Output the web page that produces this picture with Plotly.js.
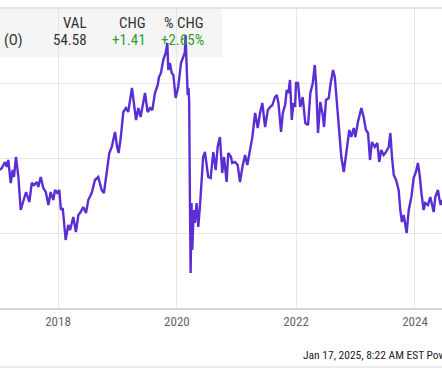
<!DOCTYPE html>
<html>
<head>
<meta charset="utf-8">
<script src="https://cdn.plot.ly/plotly-3.0.1.min.js"></script>
<style>html,body{margin:0;padding:0;background:#fff;}#chart{width:442px;height:369px;}</style>
</head>
<body>
<div id="chart"></div>
<script>
const dates = [
'2017-01-10','2017-01-21','2017-02-10','2017-02-20','2017-03-02','2017-03-17','2017-03-29','2017-04-06','2017-04-18','2017-05-03',
'2017-05-17','2017-06-02','2017-06-19','2017-07-09','2017-07-24','2017-08-07','2017-08-24','2017-09-02','2017-09-17','2017-10-03',
'2017-10-18','2017-11-03','2017-11-17','2017-12-03','2017-12-14','2017-12-28',
'2018-01-09','2018-01-19','2018-01-30','2018-02-17','2018-03-05','2018-03-16','2018-04-05','2018-04-21','2018-05-06','2018-05-20',
'2018-06-05','2018-06-22','2018-07-06','2018-07-27','2018-08-16','2018-09-05','2018-09-26','2018-10-10','2018-10-27','2018-11-12',
'2018-11-27','2018-12-17','2018-12-31',
'2019-01-08','2019-01-21','2019-02-06','2019-02-22','2019-03-08','2019-03-31','2019-04-25','2019-05-09','2019-05-23','2019-06-19',
'2019-07-05','2019-07-20','2019-08-03','2019-08-19','2019-09-05','2019-09-13','2019-09-25','2019-10-09','2019-10-24','2019-11-03',
'2019-11-09','2019-11-19','2019-11-30','2019-12-10','2019-12-24',
'2020-01-09','2020-01-26','2020-02-09','2020-02-19','2020-02-23','2020-03-01','2020-03-07','2020-03-12','2020-03-16','2020-03-21',
'2020-03-25','2020-03-31','2020-04-04','2020-04-13','2020-04-20','2020-05-01','2020-05-11','2020-05-21','2020-06-01','2020-06-10',
'2020-06-21','2020-07-01','2020-07-11','2020-07-26','2020-08-11','2020-08-26','2020-09-07','2020-09-21','2020-10-05','2020-10-16',
'2020-11-01','2020-11-11','2020-11-28','2020-12-05','2020-12-22',
'2021-01-08','2021-01-22','2021-02-06','2021-02-22','2021-03-08','2021-03-25','2021-04-08','2021-04-25','2021-05-11','2021-05-25',
'2021-06-08','2021-06-25','2021-07-12','2021-07-26','2021-08-09','2021-08-25','2021-09-05','2021-09-15','2021-10-01','2021-10-12',
'2021-10-26','2021-11-05','2021-11-15','2021-11-25','2021-12-06','2021-12-16','2021-12-26',
'2022-01-01','2022-01-13','2022-01-27','2022-02-11','2022-02-27','2022-03-16','2022-03-30','2022-04-14','2022-04-26','2022-05-04',
'2022-05-16','2022-05-30','2022-06-14','2022-06-22','2022-07-04','2022-07-21','2022-07-31','2022-08-16','2022-08-27','2022-09-10',
'2022-09-24','2022-10-06','2022-10-21','2022-11-04','2022-11-16','2022-11-24','2022-12-06','2022-12-21','2022-12-31',
'2023-01-16','2023-02-06','2023-02-20','2023-03-06','2023-03-19','2023-03-31','2023-04-12','2023-04-29','2023-05-15','2023-05-27',
'2023-06-08','2023-06-23','2023-07-07','2023-07-24','2023-08-03','2023-08-13','2023-08-24','2023-09-07','2023-09-23','2023-10-03',
'2023-10-13','2023-10-24','2023-11-03','2023-11-11','2023-11-24','2023-12-10','2023-12-24',
'2024-01-07','2024-01-19','2024-01-30','2024-02-09','2024-02-23','2024-03-04','2024-03-21','2024-04-04','2024-04-14','2024-04-25',
'2024-05-05','2024-05-21','2024-06-01','2024-06-07','2024-06-15'
];
const values = [
57.6,58.0,59.2,58.2,59.6,55.0,57.6,56.2,60.2,56.2,
49.6,51.6,53.2,51.2,55.0,54.6,55.2,54.2,56.2,54.0,
53.2,50.6,53.2,51.6,53.6,53.0,
53.6,49.6,50.0,43.6,46.6,45.6,48.2,45.2,48.6,49.2,
50.2,49.0,51.6,53.0,55.6,56.2,53.6,53.0,57.6,61.0,
62.2,65.2,62.0,
61.0,64.0,69.2,70.0,69.2,74.0,67.6,70.0,68.2,73.0,
69.2,70.0,69.6,73.0,74.6,76.2,77.0,79.6,81.0,83.0,
77.6,79.0,77.0,76.6,72.0,
74.2,79.0,80.2,81.2,84.6,77.6,72.6,74.0,71.6,51.0,
37.0,51.0,41.6,49.6,47.0,51.0,46.2,50.2,56.2,60.2,
61.2,58.2,56.2,56.0,61.2,57.6,62.2,64.2,57.0,60.2,
55.2,61.0,60.2,59.0,59.2,
58.6,55.2,58.2,60.6,58.6,62.2,64.2,69.0,66.0,69.0,
71.0,66.2,69.6,70.2,70.6,72.2,72.6,71.0,65.2,69.0,
70.6,73.6,73.0,75.6,67.6,71.0,70.2,
75.0,75.0,70.2,72.2,67.0,66.6,73.0,75.0,78.6,75.0,
65.0,71.2,68.6,66.2,71.6,72.0,74.6,77.6,76.2,70.6,
65.6,60.2,57.2,61.0,64.2,65.6,64.2,66.0,64.2,
67.2,70.0,68.2,65.6,65.0,59.6,63.2,62.2,63.0,59.2,
61.6,60.6,61.2,62.2,65.0,60.2,56.6,55.6,53.6,49.6,
47.2,48.6,47.0,45.0,49.6,52.2,56.0,
57.2,59.0,56.6,53.2,49.6,51.0,50.6,52.2,51.0,49.2,
52.2,53.6,51.4,50.6,51.6
];
const yearTicks = ['2018-01-01','2020-01-01','2022-01-01','2024-01-01'];
const yearLabels = ['2018','2020','2022','2024'];
const headers = ['VAL','CHG','% CHG'];
const rowName = '(O)';
const rowCells = ['54.58','+1.41','+2.65%'];
const footer = 'Jan 17, 2025, 8:22 AM EST Powered by YCharts';

const W = 442, H = 369, T = 8, B = 61;
const PH = H - T - B;
const px = x => x / W;
const py = y => (H - B - y) / PH;
const NARROW = '"Liberation Sans Narrow", "Roboto Condensed", Roboto, sans-serif';

const colX = [87, 146, 204];
const annotations = [];
headers.forEach((h, i) => annotations.push({
  text: h, xref: 'paper', yref: 'paper', x: px(colX[i] + 2), y: py(23.5),
  xanchor: 'right', yanchor: 'middle', showarrow: false,
  font: {family: NARROW, size: 15, color: '#333333'}
}));
annotations.push({
  text: rowName, xref: 'paper', yref: 'paper', x: px(2), y: py(40),
  xanchor: 'left', yanchor: 'middle', showarrow: false,
  font: {family: NARROW, size: 15, color: '#333333'}
});
rowCells.forEach((c, i) => annotations.push({
  text: c, xref: 'paper', yref: 'paper', x: px(colX[i] + 2), y: py(40),
  xanchor: 'right', yanchor: 'middle', showarrow: false,
  font: {family: NARROW, size: 15, color: i === 0 ? '#333333' : '#2f9e2f'}
}));
annotations.push({
  text: footer, xref: 'paper', yref: 'paper', x: px(301), y: py(355.5),
  xanchor: 'left', yanchor: 'middle', showarrow: false,
  font: {family: NARROW, size: 11.5, color: '#222222'}
});

const shapes = [
  {type: 'rect', xref: 'paper', yref: 'paper', x0: 0, x1: px(222), y0: py(57), y1: py(9),
   fillcolor: '#f5f5f5', line: {width: 0}, layer: 'below'},
  {type: 'line', xref: 'paper', yref: 'paper', x0: 0, x1: 1, y0: py(8), y1: py(8),
   line: {color: '#dcdcdc', width: 1.5}},
  {type: 'line', xref: 'paper', yref: 'paper', x0: 0, x1: 1, y0: py(367), y1: py(367),
   line: {color: '#e6e6e6', width: 1.5}}
];

const trace = {
  x: dates, y: values, type: 'scatter', mode: 'lines',
  line: {color: '#5a2ed4', width: 2.4}, hoverinfo: 'skip'
};

const layout = {
  width: W, height: H,
  margin: {l: 0, r: 0, t: T, b: B, pad: 0},
  paper_bgcolor: '#ffffff', plot_bgcolor: 'rgba(0,0,0,0)',
  showlegend: false,
  xaxis: {
    type: 'date', range: ['2017-01-10', '2024-06-15'],
    tickmode: 'array', tickvals: yearTicks, ticktext: yearLabels,
    showgrid: true, gridcolor: '#e6e6e6', gridwidth: 1,
    showline: true, linecolor: '#d4d4d4', linewidth: 2,
    ticks: '', zeroline: false, fixedrange: true,
    tickfont: {family: NARROW, size: 13, color: '#666666'}
  },
  yaxis: {
    range: [30, 90], tickmode: 'array', tickvals: [45, 60, 75],
    showticklabels: false, showgrid: true, gridcolor: '#e6e6e6', gridwidth: 1,
    zeroline: false, showline: false, ticks: '', fixedrange: true
  },
  annotations: annotations,
  shapes: shapes
};

Plotly.newPlot('chart', [trace], layout, {staticPlot: true, displayModeBar: false});
</script>
</body>
</html>
